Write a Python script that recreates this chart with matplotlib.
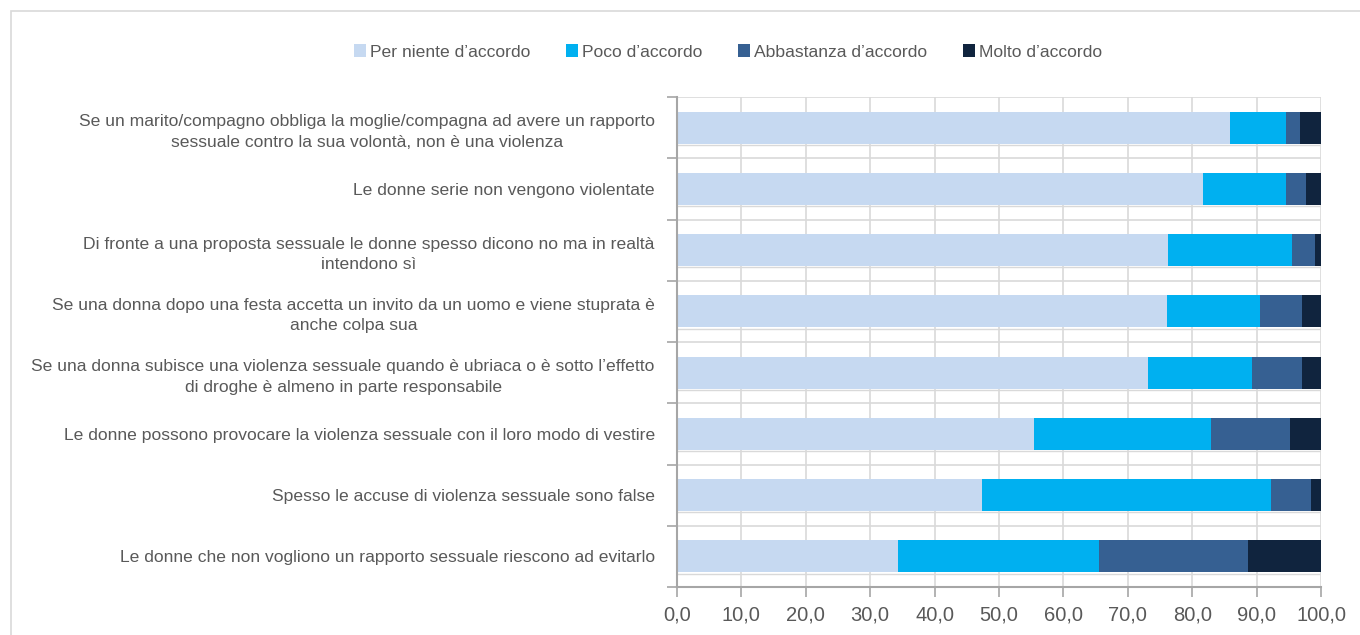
import matplotlib.pyplot as plt
from matplotlib.patches import Rectangle
import numpy as np

categories = [
    "Se un marito/compagno obbliga la moglie/compagna ad avere un rapporto\nsessuale contro la sua volontà, non è una violenza",
    "Le donne serie non vengono violentate",
    "Di fronte a una proposta sessuale le donne spesso dicono no ma in realtà\nintendono sì",
    "Se una donna dopo una festa accetta un invito da un uomo e viene stuprata è\nanche colpa sua",
    "Se una donna subisce una violenza sessuale quando è ubriaca o è sotto l’effetto\ndi droghe è almeno in parte responsabile",
    "Le donne possono provocare la violenza sessuale con il loro modo di vestire",
    "Spesso le accuse di violenza sessuale sono false",
    "Le donne che non vogliono un rapporto sessuale riescono ad evitarlo",
]
series_names = ["Per niente d’accordo", "Poco d’accordo", "Abbastanza d’accordo", "Molto d’accordo"]
per_niente = [85.9, 81.6, 76.3, 76.1, 73.1, 55.4, 47.4, 34.3]
poco = [8.6, 12.9, 19.2, 14.4, 16.2, 27.5, 44.8, 31.3]
abbastanza = [2.2, 3.1, 3.5, 6.6, 7.8, 12.3, 6.3, 23.0]
molto = [3.3, 2.4, 1.0, 2.9, 2.9, 4.8, 1.5, 11.4]
xticks = np.arange(0, 101, 10)

colors = ["#C6D9F1", "#00B0F0", "#366092", "#10243E"]
text_col = "#595959"
grid_col = "#D9D9D9"
axis_col = "#A6A6A6"
fam = ["Liberation Sans", "DejaVu Sans"]

W, H = 1360, 635
fig = plt.figure(figsize=(W / 100, H / 100), dpi=100)
fig.patches.append(Rectangle((11 / W, -0.1), 1.2, 1 - 11 / H + 0.1, transform=fig.transFigure,
                             fill=False, edgecolor="#D9D9D9", linewidth=1.2))

ax = fig.add_axes([677 / W, 1 - 587 / H, (1321 - 677) / W, (587 - 97) / H])

y = np.arange(len(categories))
bar_h = 0.52
left = np.zeros(len(categories))
for name, vals, c in zip(series_names, [per_niente, poco, abbastanza, molto], colors):
    ax.barh(y, vals, left=left, height=bar_h, color=c, label=name, zorder=3)
    left += np.array(vals)

ax.set_xlim(0, 100)
ax.set_ylim(len(categories) - 0.5, -0.5)
ax.set_xticks(xticks)
ax.set_xticklabels([f"{v:.1f}".replace(".", ",") for v in xticks], fontsize=14.5, color=text_col, family=fam)
ax.set_yticks(y)
ax.set_yticklabels(categories, fontsize=12.6, color=text_col, family=fam,
                   multialignment="center", linespacing=1.45)
ax.set_yticks(np.arange(len(categories) + 1) - 0.5, minor=True)
ax.tick_params(axis="y", which="major", length=0, pad=16)
ax.tick_params(axis="y", which="minor", length=7, color=axis_col, width=1.2)
ax.tick_params(axis="x", length=7, color=axis_col, width=1.2, pad=6)

ax.grid(axis="x", color=grid_col, linewidth=1.2, zorder=0)
for b in np.arange(len(categories) + 1) - 0.5:
    ax.axhline(b, color=grid_col, linewidth=1.2, zorder=1)
for yy in y:
    ax.axhline(yy + bar_h / 2 + 0.02, color=grid_col, linewidth=1.0, zorder=1)

for s in ["top", "right"]:
    ax.spines[s].set_visible(False)
for s in ["left", "bottom"]:
    ax.spines[s].set_color(axis_col)
    ax.spines[s].set_linewidth(1.5)
    ax.spines[s].set_zorder(4)

handles, labels = ax.get_legend_handles_labels()
fig.legend(handles, labels, loc="center", bbox_to_anchor=(728 / W, 1 - 52 / H), ncol=4, frameon=False,
           prop={"family": fam, "size": 12.6}, labelcolor=text_col, handlelength=0.7, handleheight=0.7,
           handletextpad=0.25, columnspacing=2.0)

fig.savefig("out.png", dpi=100)
